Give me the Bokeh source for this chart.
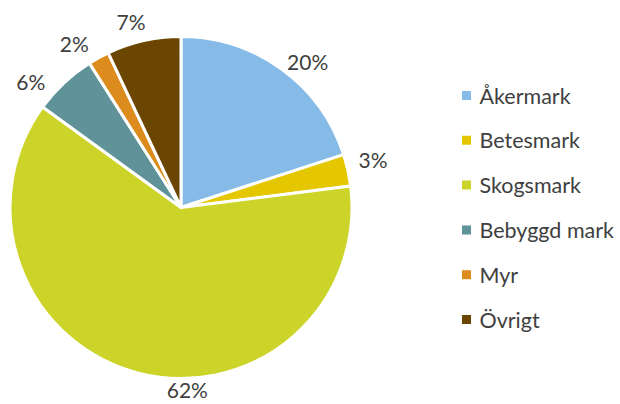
import math
from bokeh.plotting import figure
from bokeh.models import Range1d
from bokeh.core.properties import value
from bokeh.embed import file_html
from bokeh.resources import INLINE

# Data
categories = ["Åkermark", "Betesmark", "Skogsmark", "Bebyggd mark", "Myr", "Övrigt"]
shares = [20, 3, 62, 6, 2, 7]
colors = ["#86BBE8", "#E5C700", "#CCD42A", "#5F9399", "#DC8C1C", "#6B4600"]

# label placement styling (angle nudge in degrees, distance from centre in px)
label_nudge_deg = [5, -1.4, -16.4, -6.8, -4.2, -2.4]
label_dist = [193, 198, 182, 196, 196, 193]

W, H = 620, 404
p = figure(width=W, height=H, output_backend="svg", toolbar_location=None,
           x_range=Range1d(0, W), y_range=Range1d(0, H), min_border=0,
           outline_line_color=None, background_fill_color="white")
p.axis.visible = False
p.grid.visible = False

cx, cy, r = 180.5, 197.0, 171.0
total = float(sum(shares))
starts, ends, mids = [], [], []
acc = 0.0
for v in shares:
    a0 = acc / total * 360.0
    acc += v
    a1 = acc / total * 360.0
    starts.append(math.radians(90 - a0))
    ends.append(math.radians(90 - a1))
    mids.append((a0 + a1) / 2)

p.wedge(x=[cx] * len(shares), y=[cy] * len(shares), radius=r,
        start_angle=starts, end_angle=ends, direction="clock",
        fill_color=colors, line_color="white", line_width=3)

lx, ly, lt = [], [], []
for m, nud, d, v in zip(mids, label_nudge_deg, label_dist, shares):
    t = math.radians(m + nud)
    lx.append(cx + d * math.sin(t))
    ly.append(cy + d * math.cos(t))
    lt.append(f"{v}%")
p.text(x=lx, y=ly, text=lt, text_align="center", text_baseline="middle",
       text_font=value("Lato"), text_font_size="21px", text_color="#404040")

# Legend
top, pitch = 309.0, 44.8
gy = [top - i * pitch for i in range(len(categories))]
p.scatter(x=[466] * len(categories), y=gy, marker="square", size=9,
          fill_color=colors, line_color=None)
p.text(x=[479] * len(categories), y=gy, text=categories, text_align="left",
       text_baseline="middle", text_font=value("Lato"), text_font_size="21.5px",
       text_color="#404040")

open("out.html", "w").write(file_html(p, INLINE))
